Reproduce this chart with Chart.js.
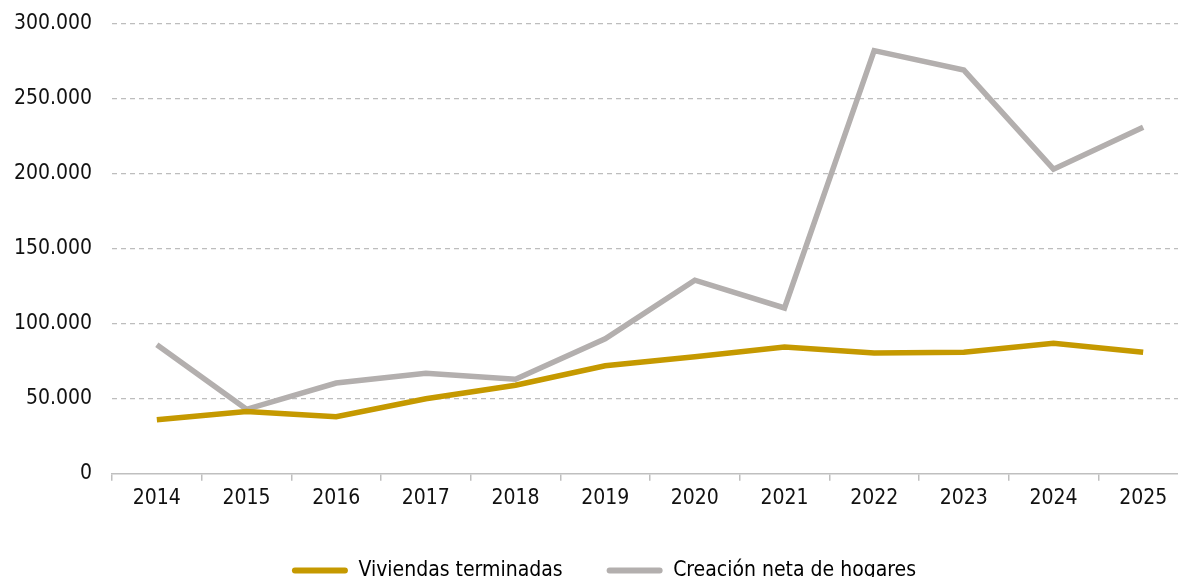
<!DOCTYPE html>
<html>
<head>
<meta charset="utf-8">
<script src="https://cdn.jsdelivr.net/npm/chart.js@4"></script>
<style>
  html, body { margin: 0; padding: 0; background: #fff; overflow: hidden; }
  .chart-box { position: relative; width: 1188px; height: 600px; margin-top: -9px; }
</style>
</head>
<body>
<div class="chart-box"><canvas id="myChart"></canvas></div>
<script>
// data
var years = ['2014', '2015', '2016', '2017', '2018', '2019', '2020', '2021', '2022', '2023', '2024', '2025'];
var viviendasTerminadas = [36000, 41500, 38000, 50000, 59000, 72000, 78000, 84500, 80500, 81000, 87000, 81000];
var creacionHogares = [86000, 43000, 60500, 67000, 63000, 90000, 129000, 110500, 282000, 269000, 203000, 231000];
var yTicks = [0, 50000, 100000, 150000, 200000, 250000, 300000];

var gold = '#c59900';
var grey = '#b3afae';
var fontName = 'DejaVu Sans Condensed';

function formatNum(v) {
    return String(v).replace(/\B(?=(\d{3})+(?!\d))/g, '.');
}

// nudge the legend a bit to the right, like in the original
const legendShift = {
    id: 'legendShift',
    afterLayout: function (chart) {
        if (chart.legend) {
            chart.legend.left += 10;
            chart.legend.right += 10;
        }
    }
};

const data = {
    labels: years,
    datasets: [{
        label: 'Viviendas terminadas',
        data: viviendasTerminadas,
        borderColor: gold,
        backgroundColor: gold,
        borderWidth: 5.5,
        pointRadius: 0,
        tension: 0
    }, {
        label: 'Creación neta de hogares',
        data: creacionHogares,
        borderColor: grey,
        backgroundColor: grey,
        borderWidth: 5.5,
        pointRadius: 0,
        tension: 0
    }]
};

const config = {
    type: 'line',
    data: data,
    plugins: [legendShift],
    options: {
        responsive: true,
        maintainAspectRatio: false,
        animation: false,
        layout: {
            padding: { top: 4, left: 0, right: 0, bottom: 0 }
        },
        plugins: {
            tooltip: { enabled: false },
            legend: {
                position: 'bottom',
                labels: {
                    color: '#111',
                    font: { family: fontName, size: 21 },
                    boxWidth: 56,
                    boxHeight: 6,
                    padding: 44,
                    useBorderRadius: true,
                    borderRadius: 3,
                    generateLabels: function (chart) {
                        return chart.data.datasets.map(function (ds, i) {
                            return {
                                text: ds.label,
                                fillStyle: ds.borderColor,
                                strokeStyle: ds.borderColor,
                                lineWidth: 0,
                                borderRadius: 3,
                                datasetIndex: i
                            };
                        });
                    }
                }
            }
        },
        scales: {
            x: {
                offset: true,
                grid: {
                    offset: true,
                    drawOnChartArea: false,
                    drawTicks: true,
                    tickLength: 7,
                    color: '#bfbfbf',
                    lineWidth: 1.5
                },
                border: { display: true, color: '#bfbfbf', width: 1.5 },
                ticks: {
                    color: '#111',
                    font: { family: fontName, size: 21 },
                    padding: 5,
                    maxRotation: 0
                }
            },
            y: {
                min: 0,
                max: 300000,
                afterBuildTicks: function (axis) {
                    axis.ticks = yTicks.map(function (v) { return { value: v }; });
                },
                afterFit: function (axis) {
                    // fixed axis width so the plot starts where the reference does
                    axis.width = 112;
                },
                grid: {
                    drawTicks: false,
                    color: function (ctx) {
                        return ctx.tick && ctx.tick.value === 0 ? 'rgba(0,0,0,0)' : '#bdbdbd';
                    },
                    lineWidth: 1.2
                },
                border: { display: false, dash: [5, 4] },
                ticks: {
                    color: '#111',
                    font: { family: fontName, size: 21 },
                    padding: 20,
                    callback: function (v) { return formatNum(v); }
                }
            }
        }
    }
};

var myChart = new Chart(document.getElementById('myChart'), config);
</script>
</body>
</html>
